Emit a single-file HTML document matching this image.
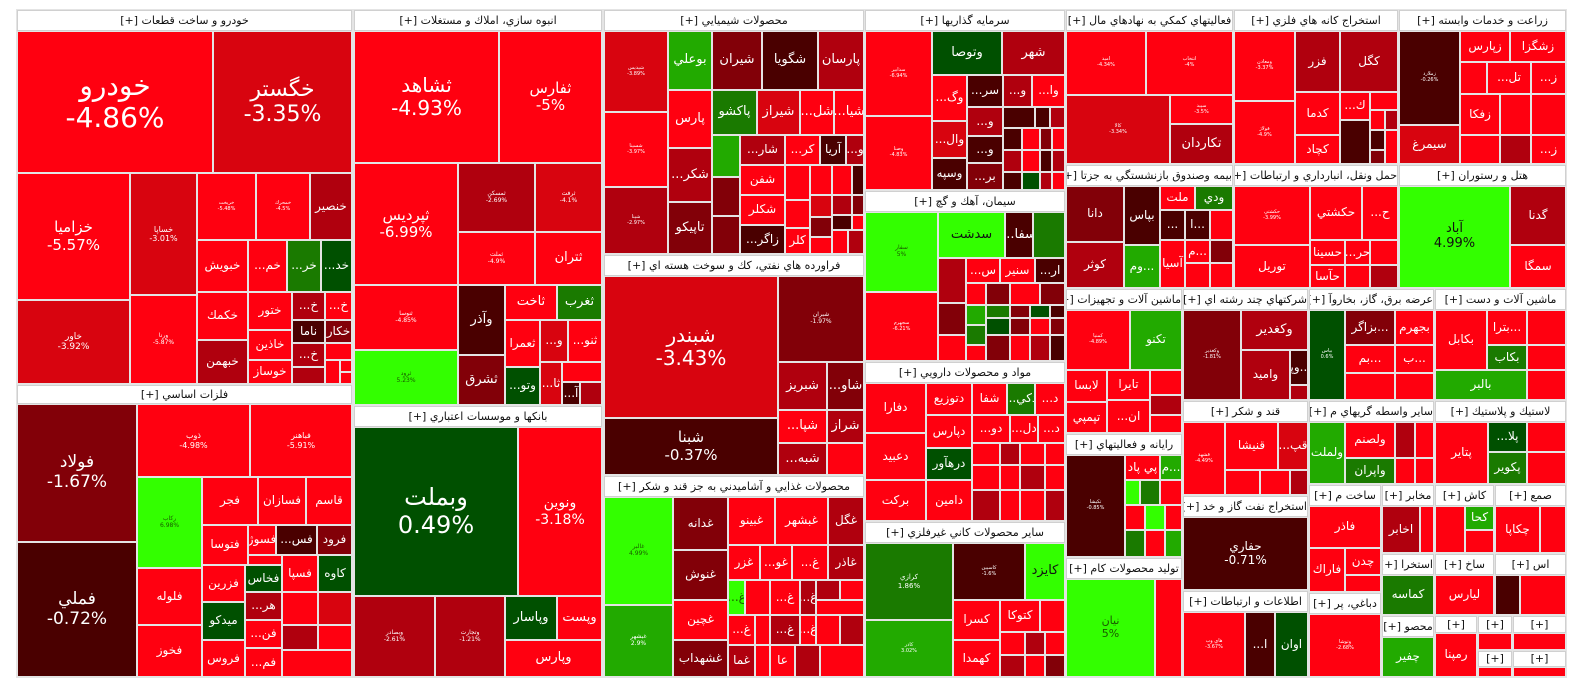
<!DOCTYPE html>
<html><head><meta charset="utf-8">
<style>
html,body{margin:0;padding:0;background:#fff;}
#c{position:relative;width:1584px;height:698px;overflow:hidden;background:#fff;font-family:"DejaVu Sans","Liberation Sans",sans-serif;}
#bg{position:absolute;left:16px;top:9px;width:1551px;height:669px;background:#e4e4e4;}
.h{position:absolute;background:#fff;border:1px solid #d0d0d0;box-sizing:border-box;font-size:11px;line-height:18px;text-align:center;color:#111;white-space:nowrap;overflow:hidden;direction:rtl;}
.t{position:absolute;display:flex;align-items:center;justify-content:center;flex-direction:column;color:#fff;text-align:center;overflow:hidden;white-space:nowrap;line-height:1.15;}
</style></head><body>
<div id="c"><div id="bg"></div></div>
<script>
const C={R:'#ff0010',M:'#d8040f',D:'#b0000e',DD:'#820008',K:'#4a0000',G1:'#33ff00',G2:'#22aa00',G3:'#1a7a00',G4:'#005000'};
const H=[
[17,10,352,31,"خودرو و ساخت قطعات [+]"],[17,385,352,404,"فلزات اساسي [+]"],
[354,10,602,31,"انبوه سازي، املاك و مستغلات [+]"],[354,406,602,427,"بانكها و موسسات اعتباري [+]"],
[604,10,864,31,"محصولات شيميايي [+]"],[604,255,864,276,"فراورده هاي نفتي، كك و سوخت هسته اي [+]"],
[604,476,864,497,"محصولات غذايي و آشاميدني به جز قند و شكر [+]"],
[865,10,1065,31,"سرمايه گذاريها [+]"],[865,191,1065,212,"سيمان، آهك و گچ [+]"],
[865,362,1065,383,"مواد و محصولات دارويي [+]"],[865,522,1065,543,"ساير محصولات كاني غيرفلزي [+]"],
[1066,10,1233,31,"فعاليتهاي كمكي به نهادهاي مال [+]"],[1066,165,1233,186,"بيمه وصندوق بازنشستگي به جزتا [+]"],
[1066,289,1182,310,"ماشين آلات و تجهيزات [+]"],[1066,434,1182,455,"رايانه و فعاليتهاي [+]"],
[1066,558,1182,579,"توليد محصولات كام [+]"],[1183,289,1308,310,"شركتهاي چند رشته اي [+]"],
[1183,401,1308,422,"قند و شكر [+]"],[1183,496,1308,517,"استخراج نفت گاز و خد [+]"],
[1183,591,1308,612,"اطلاعات و ارتباطات [+]"],[1234,10,1398,31,"استخراج كانه هاي فلزي [+]"],
[1399,10,1566,31,"زراعت و خدمات وابسته [+]"],[1234,165,1398,186,"حمل ونقل، انبارداري و ارتباطات [+]"],
[1399,165,1566,186,"هتل و رستوران [+]"],[1309,289,1434,310,"عرضه برق، گاز، بخاروآ [+]"],
[1435,289,1566,310,"ماشين آلات و دست [+]"],[1309,401,1434,422,"ساير واسطه گريهاي م [+]"],
[1435,401,1566,422,"لاستيك و پلاستيك [+]"],[1309,485,1381,506,"ساخت م [+]"],
[1309,593,1381,614,"دباغي، پر [+]"],[1382,485,1434,506,"مخابر [+]"],[1382,554,1434,575,"استخرا [+]"],
[1382,616,1434,637,"محصو [+]"],[1435,485,1494,506,"كاش [+]"],[1495,485,1566,506,"صمع [+]"],
[1435,554,1494,575,"ساخ [+]"],[1495,554,1566,575,"اس [+]"],[1435,616,1477,633,"[+]"],
[1478,616,1512,633,"[+]"],[1513,616,1566,633,"[+]"],[1478,651,1512,667,"[+]"],[1513,651,1566,667,"[+]"]
];
const T=[
[17,31,213,173,'R','خودرو|-4.86%',28],[213,31,352,173,'M','خگستر|-3.35%',22],
[17,173,130,300,'R','خزاميا|-5.57%',15],[17,300,130,384,'M','خاور|-3.92%',9],
[130,173,197,295,'M','خساپا|-3.01%',8],[130,295,197,384,'R','ورنا|-5.87%',6],
[197,173,256,240,'R','خريخت|-5.48%',5],[256,173,310,240,'R','خمحرك|-4.5%',5],[310,173,352,240,'D','خنصير',12],
[197,240,248,292,'R','خبويش'],[248,240,287,292,'R','خم...'],[287,240,321,292,'G3','خر...'],[321,240,352,292,'G4','خد...'],
[197,292,248,340,'R','خكمك'],[248,292,292,330,'R','ختور'],[292,292,325,320,'D','خ...'],[325,292,352,320,'R','خ...'],
[292,320,325,343,'K','ناما'],[325,320,352,343,'DD','خكار'],[248,330,292,360,'R','خاذين'],[197,340,248,384,'D','خبهمن'],
[248,360,292,384,'R','خوساز'],[292,343,325,367,'D','خ...'],[292,367,325,384,'D'],[325,343,352,360,'R'],
[325,360,340,384,'R'],[340,360,352,372,'R'],[340,372,352,384,'R'],
[17,404,137,542,'DD','فولاد|-1.67%',17],[17,542,137,677,'K','فملي|-0.72%',17],
[137,404,250,477,'R','ذوب|-4.98%',8],[250,404,352,477,'R','فباهنر|-5.91%',8],[137,477,202,568,'G1','ركاب|6.98%',6],
[202,477,258,525,'R','فجر'],[258,477,306,525,'R','فسازان'],[306,477,352,525,'R','قاسم'],
[202,525,248,565,'R','فتوسا'],[248,525,276,555,'R','فسوژ'],[276,525,317,555,'K','فس...'],[317,525,352,555,'DD','فرود'],
[245,565,282,592,'G4','فخاس'],[282,555,318,592,'R','فسپا'],[318,555,352,592,'G4','كاوه'],[248,555,282,565,'R'],
[137,568,202,625,'R','فلوله'],[202,565,245,602,'R','فزرين'],[137,625,202,677,'R','فخوز'],[202,602,245,640,'G4','ميدكو'],
[245,592,282,620,'D','هر...'],[245,620,282,648,'R','فن...'],[245,648,282,677,'R','فم...'],[202,640,245,677,'R','فروس'],
[282,592,318,625,'R'],[318,592,352,625,'M'],[282,625,318,650,'D'],[318,625,352,650,'R'],[282,650,352,677,'R'],
[354,31,499,163,'R','ثشاهد|-4.93%',20],[499,31,602,163,'R','ثفارس|-5%',15],[354,163,458,285,'R','ثپرديس|-6.99%',15],
[458,163,535,232,'D','ثمسكن|-2.69%',6],[535,163,602,232,'M','ثرفت|-4.1%',6],[458,232,535,285,'R','ثملت|-4.9%',6],
[535,232,602,285,'R','ثتران',13],[354,285,458,350,'R','ثنوسا|-4.85%',6],[354,350,458,405,'G1','ثرود|5.23%',6],
[458,285,505,355,'K','وآذر',13],[458,355,505,405,'DD','ثشرق',13],[505,285,557,320,'R','ثاخت',13],[557,285,602,320,'G3','ثغرب',13],
[505,320,540,367,'R','ثعمرا'],[540,320,568,362,'M','و...'],[568,320,602,362,'R','ثنو...'],
[505,367,540,405,'G4','وتو...'],[540,362,562,405,'M','ثا...'],[562,362,602,382,'R'],[562,382,580,405,'K','آ...'],[580,382,602,405,'D'],
[354,427,518,596,'G4','وبملت|0.49%',24],[518,427,602,596,'R','ونوين|-3.18%',14],[354,596,435,677,'D','وبصادر|-2.61%',6],
[435,596,505,677,'D','وتجارت|-1.21%',6],[505,596,557,640,'G4','وپاسار',13],[557,596,602,640,'R','وپست',13],[505,640,602,677,'R','وپارس',13],
[604,31,668,112,'M','شپديس|-3.89%',5],[668,31,712,90,'G2','بوعلي',13],[712,31,762,90,'DD','شيران',13],[762,31,818,90,'K','شگويا',13],
[818,31,864,90,'D','پارسان',13],[604,112,668,187,'R','شسينا|-3.97%',5],[604,187,668,254,'D','شپنا|-2.97%',5],
[668,90,712,148,'R','پارس',13],[712,90,757,135,'G3','پاكشو',13],[757,90,800,135,'M','شيراز',13],[800,90,834,135,'R','شل...',13],[834,90,864,135,'R','شيا...',13],
[668,148,712,202,'D','شكر...',13],[668,202,712,254,'DD','تاپيكو',13],[712,135,740,177,'G2'],[712,177,740,216,'DD'],[712,216,740,254,'DD'],
[740,135,785,165,'D','شار...'],[785,135,820,165,'R','كر...'],[820,135,846,165,'K','آريا'],[846,135,864,165,'D','و...'],
[740,165,785,195,'R','شفن'],[740,195,785,225,'R','شكلر'],[740,225,785,254,'K','زاگر...'],
[785,165,810,200,'R'],[810,165,832,195,'R'],[832,165,852,195,'R'],[852,165,864,195,'K'],
[785,200,810,228,'R'],[810,195,832,217,'M'],[832,195,852,215,'D'],[852,195,864,215,'DD'],
[785,228,810,254,'R','كلر'],[810,217,832,237,'DD'],[832,215,852,230,'K'],[852,215,864,230,'R'],[810,237,832,254,'R'],[832,230,848,254,'R'],[848,230,864,254,'D'],
[604,276,778,418,'M','شبندر|-3.43%',20],[778,276,864,362,'DD','شبران|-1.97%',6],[604,418,778,475,'K','شبنا|-0.37%',15],
[778,362,827,410,'D','شبريز',13],[827,362,864,410,'DD','شاو...',13],[778,410,827,443,'R','شپا...',13],[827,410,864,443,'D','شراز',13],
[778,443,827,475,'D','شبه...',13],[827,443,864,475,'R'],
[604,497,673,605,'G1','غالبر|4.99%',6],[604,605,673,677,'G2','غبشهر|2.9%',6],[673,497,728,550,'DD','غدانه'],[673,550,728,600,'DD','غنوش'],
[673,600,728,640,'R','غچين'],[673,640,728,677,'DD','غشهداب'],[728,497,775,545,'R','غبينو'],[775,497,828,545,'R','غبشهر'],[828,497,864,545,'D','غگل'],
[728,545,760,580,'R','غزر'],[760,545,792,580,'R','غو...'],[792,545,828,580,'R','غ...'],[828,545,864,580,'D','غاذر'],
[728,580,745,615,'G1','غ...'],[745,580,770,615,'R'],[770,580,800,615,'R','غ...'],[800,580,816,615,'D','غ...'],[816,580,840,600,'D'],[840,580,864,600,'R'],[816,600,864,615,'R'],
[728,615,755,645,'R','غ...'],[755,615,770,645,'R'],[770,615,800,645,'D','غ...'],[800,615,816,645,'R','غ...'],[816,615,840,645,'R'],[840,615,864,645,'D'],
[728,645,755,677,'D','غما'],[755,645,770,677,'R'],[770,645,795,677,'R','عا'],[795,645,820,677,'D'],[820,645,864,677,'R'],
[865,31,932,116,'R','سدابير|-6.94%',5],[865,116,932,190,'R','وصنا|-4.83%',5],[932,31,1002,75,'G4','وتوصا',13],[1002,31,1065,75,'D','شهر',13],
[932,75,967,121,'R','وگ...'],[932,121,967,158,'M','وال...'],[932,158,967,190,'K','وسپه'],
[967,75,1003,107,'K','سر...'],[1003,75,1032,107,'D','و...'],[1032,75,1065,107,'R','وا...'],
[967,107,1003,136,'D','و...'],[967,136,1003,163,'K','و...'],[967,163,1003,190,'DD','بر...'],
[1003,107,1035,128,'K'],[1035,107,1050,128,'K'],[1050,107,1065,128,'D'],[1003,128,1022,150,'K'],[1022,128,1040,150,'R'],[1040,128,1052,150,'DD'],[1052,128,1065,150,'R'],
[1003,150,1022,172,'D'],[1022,150,1040,172,'R'],[1040,150,1052,172,'K'],[1052,150,1065,172,'D'],[1003,172,1022,190,'K'],[1022,172,1040,190,'G4'],[1040,172,1052,190,'D'],[1052,172,1065,190,'R'],
[865,212,938,292,'G1','سفار|5%',6],[865,292,938,361,'R','سجهرم|-6.21%',5],[938,212,1005,258,'G1','سدشت',13],[1005,212,1033,258,'K','سفا...',13],[1033,212,1065,258,'G3'],
[938,258,966,303,'D'],[966,258,1000,283,'R','س...'],[1000,258,1035,283,'R','سنير'],[1035,258,1065,283,'K','ار...'],[938,303,966,335,'DD'],[938,335,966,361,'R'],
[966,283,986,305,'R'],[986,283,1010,305,'DD'],[1010,283,1040,305,'R'],[1040,283,1065,305,'DD'],
[966,305,986,325,'G2'],[986,305,1010,318,'G3'],[1010,305,1030,318,'DD'],[1030,305,1050,318,'G4'],[1050,305,1065,318,'K'],
[966,325,986,345,'G3'],[986,318,1010,335,'G4'],[1010,318,1030,335,'DD'],[1030,318,1050,335,'R'],[1050,318,1065,335,'DD'],
[966,345,986,361,'R'],[986,335,1010,361,'DD'],[1010,335,1030,361,'R'],[1030,335,1050,361,'D'],[1050,335,1065,361,'K'],
[865,383,926,433,'R','دفارا'],[926,383,972,415,'R','دتوزيع'],[972,383,1007,415,'R','شفا'],[1007,383,1035,415,'G3','دكي...'],[1035,383,1065,415,'R','د...'],
[865,433,926,480,'R','دعبيد'],[865,480,926,521,'R','بركت'],[926,415,972,448,'R','دپارس'],[926,448,972,480,'G4','درهآور'],[926,480,972,521,'R','دامين'],
[972,415,1010,443,'R','دو...'],[1010,415,1038,443,'R','دل...'],[1038,415,1065,443,'R','د...'],
[972,443,1000,465,'R'],[1000,443,1020,465,'D'],[1020,443,1045,465,'R'],[1045,443,1065,465,'R'],
[972,465,1000,490,'R'],[1000,465,1020,490,'R'],[1020,465,1045,490,'D'],[1045,465,1065,490,'R'],
[972,490,1000,521,'D'],[1000,490,1020,521,'R'],[1020,490,1045,521,'R'],[1045,490,1065,521,'D'],
[865,543,953,620,'G3','كرازي|1.86%',7],[865,620,953,677,'G2','كاذر|3.02%',5],[953,543,1025,600,'K','كاسپين|-1.6%',5],[1025,543,1065,600,'G1','كايزد',13],
[953,600,1000,640,'R','كسرا'],[1000,600,1040,632,'R','كتوكا'],[1040,600,1065,632,'R'],[953,640,1000,677,'R','كهمدا'],
[1000,632,1025,655,'R'],[1025,632,1045,655,'D'],[1045,632,1065,655,'R'],[1000,655,1025,677,'D'],[1025,655,1045,677,'R'],[1045,655,1065,677,'DD'],
[1066,31,1146,95,'R','اميد|-4.34%',5],[1146,31,1233,95,'R','انتخاب|-4%',5],[1066,95,1170,164,'M','كالا|-3.34%',5],[1170,95,1233,124,'R','سپيد|-3.5%',5],[1170,124,1233,164,'D','تكاردان',13],
[1066,186,1124,242,'DD','دانا'],[1066,242,1124,288,'D','كوثر'],[1124,186,1160,245,'K','بپاس'],[1124,245,1160,288,'G2','...وم'],
[1160,186,1195,210,'R','ملت'],[1195,186,1233,210,'G3','ودي'],[1160,210,1185,240,'K','...'],[1185,210,1210,240,'K','...ا'],[1210,210,1233,240,'R'],
[1160,240,1185,288,'R','آسيا'],[1185,240,1210,263,'R','...م'],[1210,240,1233,263,'DD'],[1185,263,1210,288,'R'],[1210,263,1233,288,'R'],
[1066,310,1130,370,'R','كمنيا|-4.89%',5],[1130,310,1182,370,'G2','تكنو'],[1066,370,1107,402,'R','لابسا'],[1066,402,1107,433,'R','تپمپي'],
[1107,370,1150,400,'R','تايرا'],[1107,400,1150,433,'R','ان...'],[1150,370,1182,395,'R'],[1150,395,1182,415,'D'],[1150,415,1182,433,'R'],
[1066,455,1125,557,'K','تكيشا|-0.85%',5],[1125,455,1160,480,'R','پي پاد'],[1160,455,1182,480,'G2','...م'],[1125,480,1140,505,'G1'],[1140,480,1160,505,'G3'],[1160,480,1182,505,'R'],
[1125,505,1145,530,'R'],[1145,505,1165,530,'G1'],[1165,505,1182,530,'R'],[1125,530,1145,557,'G3'],[1145,530,1165,557,'R'],[1165,530,1182,557,'G2'],
[1066,579,1155,677,'G1','نيان|5%',11],[1155,579,1182,677,'R'],
[1183,310,1241,400,'DD','وكغدير|-1.81%',5],[1241,310,1308,350,'D','وكغدير',13],[1241,350,1290,400,'D','واميد'],[1290,350,1308,385,'K','...وپا'],[1290,385,1308,400,'D'],
[1183,422,1225,495,'R','قشهد|-4.49%',5],[1225,422,1278,470,'R','قنيشا'],[1278,422,1308,470,'M','قپ...'],[1225,470,1260,495,'R'],[1260,470,1290,495,'R'],[1290,470,1308,495,'D'],
[1183,517,1308,590,'K','حفاري|-0.71%',12],
[1183,612,1245,677,'R','هاي وب|-3.67%',5],[1245,612,1275,677,'K','ا...'],[1275,612,1308,677,'G4','اوان'],
[1234,31,1295,101,'R','ومعادن|-3.37%',5],[1234,101,1295,164,'R','فولاژ|-4.9%',5],[1295,31,1340,92,'D','فزر'],[1340,31,1398,92,'D','كگل'],
[1295,92,1340,135,'R','كدما'],[1340,92,1370,120,'R','ك...'],[1295,135,1340,164,'R','كچاد'],[1340,120,1370,164,'K'],[1370,92,1398,110,'R'],
[1370,110,1385,130,'R'],[1385,110,1398,130,'D'],[1370,130,1385,150,'K'],[1385,130,1398,164,'R'],[1370,150,1385,164,'DD'],
[1399,31,1460,125,'K','زملارد|-0.26%',5],[1399,125,1460,164,'M','سيمرغ'],[1460,31,1510,62,'R','زپارس'],[1510,31,1566,62,'R','زشگزا'],
[1460,62,1487,94,'R'],[1487,62,1531,94,'R','تل...'],[1531,62,1566,94,'R','ز...'],[1460,94,1500,135,'R','زفكا'],[1500,94,1531,135,'R'],[1531,94,1566,135,'R'],
[1460,135,1500,164,'R'],[1500,135,1531,164,'D'],[1531,135,1566,164,'R','ز...'],
[1234,186,1310,245,'R','حكشتي|-3.99%',5],[1234,245,1310,288,'R','توريل'],[1310,186,1362,240,'R','حكشتي'],[1362,186,1398,240,'R','ح...'],
[1310,240,1345,265,'R','حسينا'],[1345,240,1370,265,'R','حر...'],[1370,240,1398,265,'R'],[1310,265,1345,288,'R','حآسا'],[1345,265,1370,288,'R'],[1370,265,1398,288,'D'],
[1399,186,1510,288,'G1','آباد|4.99%',13],[1510,186,1566,245,'D','گدنا'],[1510,245,1566,288,'R','سمگا'],
[1309,310,1345,400,'G4','بپاس|0.6%',5],[1345,310,1395,345,'DD','...بزاگر'],[1395,310,1434,345,'R','بجهرم'],[1345,345,1395,373,'R','...بم'],
[1395,345,1434,373,'R','...ب'],[1345,373,1395,400,'R'],[1395,373,1434,400,'R'],
[1435,310,1487,370,'R','بكابل'],[1487,310,1527,345,'R','...بترا'],[1527,310,1566,345,'R'],[1487,345,1527,370,'G3','بكاب'],[1527,345,1566,370,'R'],
[1435,370,1527,400,'G2','بالبر'],[1527,370,1566,400,'R'],
[1309,422,1345,484,'G2','ولملت'],[1345,422,1395,458,'R','ولصنم'],[1345,458,1395,484,'G3','واپران'],[1395,422,1415,458,'D'],[1415,422,1434,458,'R'],[1395,458,1415,484,'R'],[1415,458,1434,484,'R'],
[1435,422,1488,484,'R','پتاير'],[1488,422,1527,452,'G4','پلا...'],[1527,422,1566,452,'R'],[1488,452,1527,484,'G3','پكوير'],[1527,452,1566,484,'R'],
[1309,506,1381,548,'R','فاذر'],[1309,548,1345,592,'R','فاراك'],[1345,548,1381,575,'R','چدن'],[1345,575,1381,592,'R'],
[1309,614,1381,677,'R','وتوشا|-2.68%',5],
[1382,506,1420,553,'D','اخابر'],[1420,506,1434,553,'R'],[1382,575,1434,615,'G3','كماسه'],[1382,637,1434,677,'G2','چفير'],
[1435,506,1465,553,'R'],[1465,506,1494,530,'G2','كحا'],[1465,530,1494,553,'R'],[1495,506,1540,553,'R','چكاپا'],[1540,506,1566,553,'R'],
[1435,575,1494,615,'R','ليارس'],[1495,575,1520,615,'K'],[1520,575,1566,615,'R'],
[1435,633,1477,677,'R','رمپنا'],[1478,633,1512,650,'R'],[1513,633,1566,650,'R'],[1478,667,1512,677,'R'],[1513,667,1566,677,'R']
];
const c=document.getElementById('c');let h='';
for(const [x1,y1,x2,y2,t] of H){h+=`<div class="h" style="left:${x1}px;top:${y1}px;width:${x2-x1}px;height:${y2-y1}px;line-height:${y2-y1-2}px">${t}</div>`;}
for(const [x1,y1,x2,y2,col,lab,fs0] of T){
 const fs=fs0||12;const g=col==='G1'&&fs<13;
 let inner='';if(lab){inner=lab.split('|').map(s=>`<div dir="auto">${s}</div>`).join('');}
 h+=`<div class="t" style="left:${x1+1}px;top:${y1+1}px;width:${x2-x1-2}px;height:${y2-y1-2}px;background:${C[col]};font-size:${fs}px;color:${g?'#1a5a00':(col==='G1'?'#111':'#fff')}">${inner}</div>`;
}
c.insertAdjacentHTML('beforeend',h);
</script>
</body></html>
